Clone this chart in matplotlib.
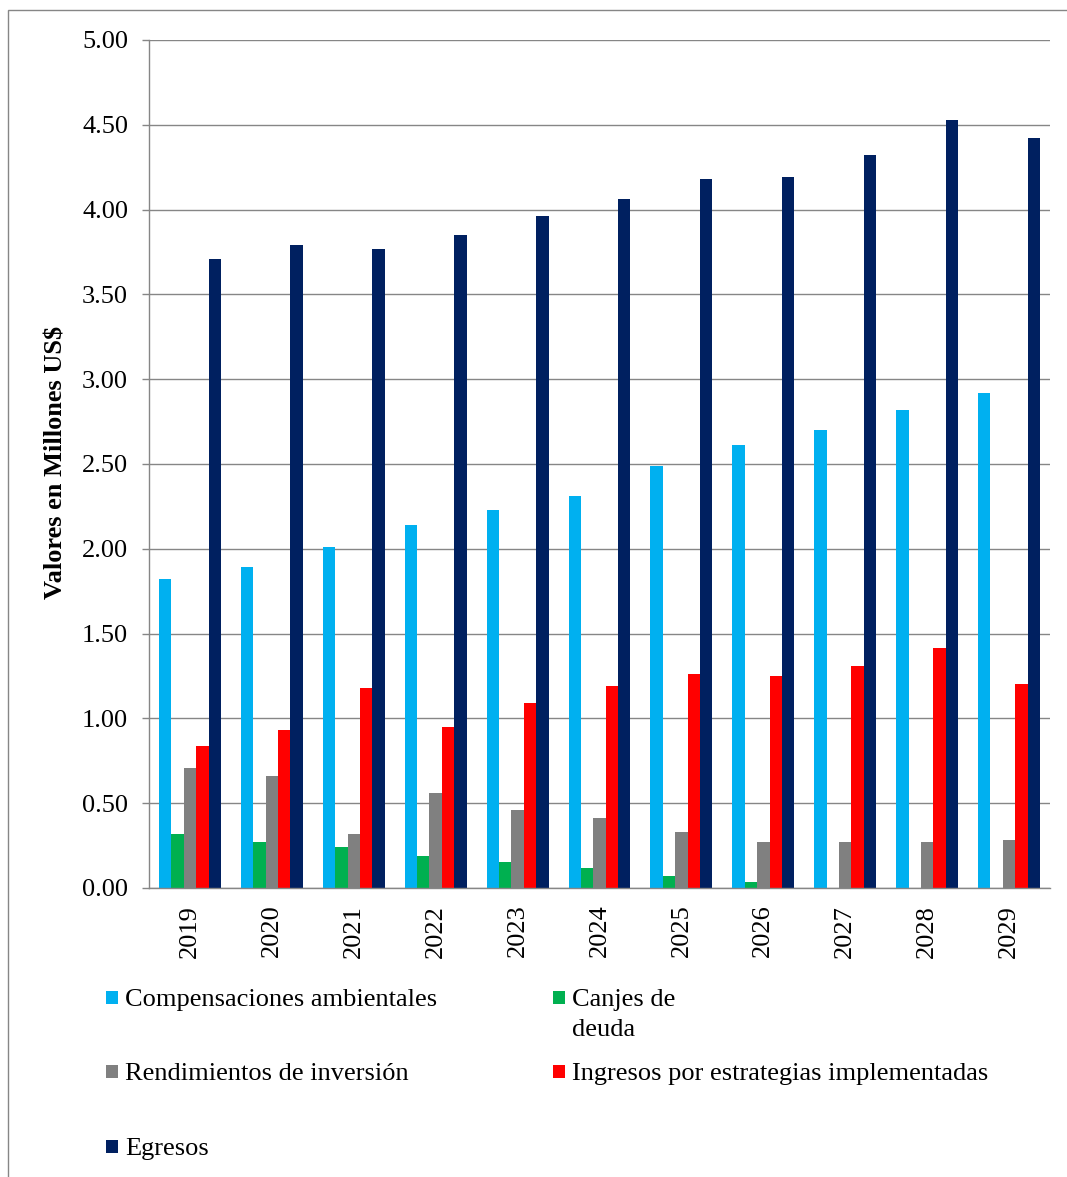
import matplotlib
matplotlib.use("Agg")
import matplotlib.pyplot as plt
import numpy as np
from matplotlib.patches import Rectangle

# Data (millions of US$)
years = ["2019", "2020", "2021", "2022", "2023", "2024", "2025", "2026", "2027", "2028", "2029"]
compensaciones = [1.82, 1.89, 2.01, 2.14, 2.23, 2.31, 2.49, 2.61, 2.70, 2.82, 2.92]
canjes = [0.32, 0.27, 0.24, 0.19, 0.155, 0.12, 0.073, 0.037, 0.0, 0.0, 0.0]
rendimientos = [0.71, 0.66, 0.32, 0.56, 0.46, 0.415, 0.33, 0.27, 0.27, 0.27, 0.285]
ingresos = [0.84, 0.93, 1.18, 0.95, 1.09, 1.19, 1.26, 1.25, 1.31, 1.415, 1.205]
egresos = [3.71, 3.79, 3.77, 3.85, 3.96, 4.06, 4.18, 4.19, 4.32, 4.53, 4.42]

series_labels = ["Compensaciones ambientales", "Canjes de\ndeuda", "Rendimientos de inversión",
                 "Ingresos por estrategias implementadas", "Egresos"]
series_values = [compensaciones, canjes, rendimientos, ingresos, egresos]
series_colors = ["#00B0F0", "#00B050", "#808080", "#FF0000", "#002060"]

plt.rcParams['font.family'] = ['Liberation Serif', 'DejaVu Serif']

W, H = 1067, 1177
fig = plt.figure(figsize=(W / 100, H / 100), dpi=100)

def fx(px):
    return px / W

def fy(py):
    return 1 - py / H

ax = fig.add_axes([fx(149), fy(888), fx(1050) - fx(149), fy(40) - fy(888)])

grid_c = "#868686"
n = len(series_values)
bar_w = 0.151
x = np.arange(len(years))
for i, (vals, col) in enumerate(zip(series_values, series_colors)):
    offs = (i - (n - 1) / 2) * bar_w
    ax.bar(x + offs, vals, width=bar_w, color=col, zorder=3, linewidth=0)

ax.set_xlim(-0.5, len(years) - 0.5)
ax.set_ylim(0, 5)
ax.set_yticks(np.arange(0, 5.01, 0.5))
ax.set_yticklabels([f"{v:.2f}" for v in np.arange(0, 5.01, 0.5)], fontsize=19)
ax.yaxis.grid(True, color=grid_c, linewidth=1.0, zorder=0)
ax.set_axisbelow(True)

ax.set_xticks(x)
ax.set_xticklabels(years, rotation=90, fontsize=19)
ax.tick_params(axis='x', length=0, pad=12)
ax.tick_params(axis='y', length=5, width=1.0, color=grid_c, pad=10)

for s in ["top", "right"]:
    ax.spines[s].set_visible(False)
for s in ["left", "bottom"]:
    ax.spines[s].set_color(grid_c)
    ax.spines[s].set_linewidth(1.0)
ax.spines["bottom"].set_zorder(4)

ax.set_ylabel("Valores en Millones US$", fontsize=19, fontweight="bold")
ax.yaxis.set_label_coords(-0.09, 0.502)

# Legend entries laid out in two columns below the plot
legend_pos = [(106, 1000), (553, 1000), (106, 1074), (553, 1074), (106, 1149)]
for (px, py), lab, col in zip(legend_pos, series_labels, series_colors):
    fig.patches.append(Rectangle((fx(px), fy(py + 4)), fx(12), 13 / H,
                                 transform=fig.transFigure, facecolor=col,
                                 edgecolor="none"))
    lines = lab.split("\n")
    for k, line in enumerate(lines):
        fig.text(fx(px + 19), fy(py + 30 * k), line, fontsize=19,
                 ha="left", va="center")

# Outer chart frame
fig.patches.append(Rectangle((fx(8), -0.1), 1.2, fy(10) + 0.1,
                             transform=fig.transFigure, fill=False,
                             edgecolor=grid_c, linewidth=1.0))

fig.savefig("out.png", dpi=100)
